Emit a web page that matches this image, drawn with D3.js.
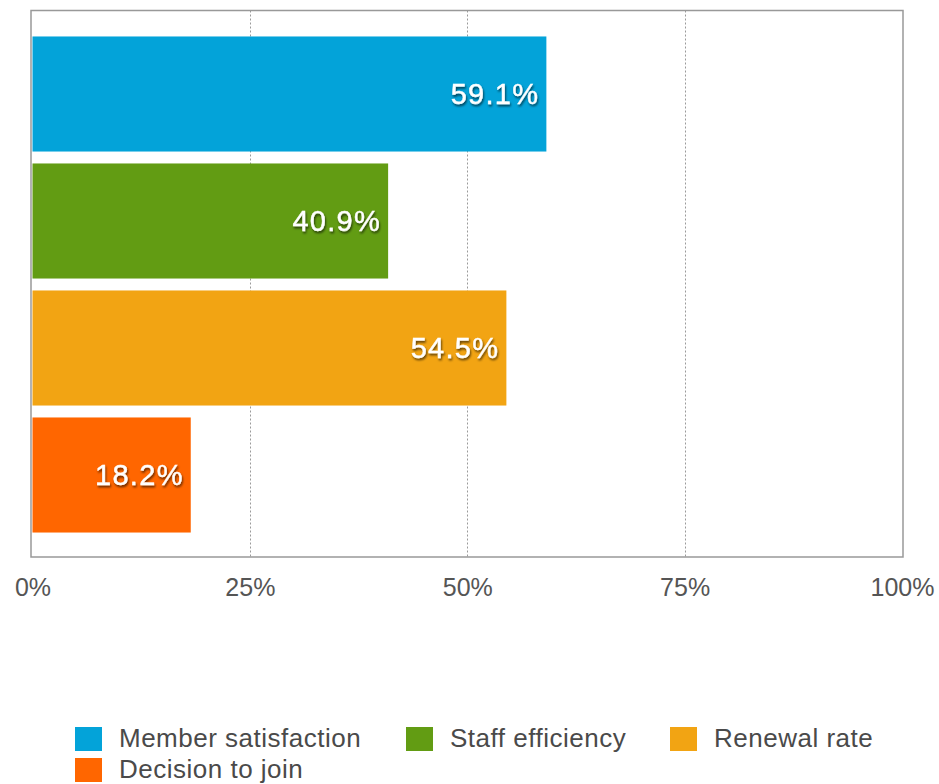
<!DOCTYPE html>
<html>
<head>
<meta charset="utf-8">
<script src="https://cdn.jsdelivr.net/npm/d3@7"></script>
<style>
  html, body { margin: 0; padding: 0; background: #fff; }
  svg { display: block; font-family: "Liberation Sans", Arial, Helvetica, sans-serif; }
</style>
</head>
<body>
<svg id="chart" width="939" height="784"></svg>
<script>
// Survey results (percent)
const categories = ["Member satisfaction", "Staff efficiency", "Renewal rate", "Decision to join"];
const values = [59.1, 40.9, 54.5, 18.2];
const colors = ["#03a3d9", "#629c13", "#f2a413", "#ff6600"];
const tickValues = [0, 25, 50, 75, 100];

const svg = d3.select("#chart");

const frame = { left: 31, right: 903, top: 10.5, bottom: 557 };

const x = d3.scaleLinear().domain([0, 100]).range([32.5, 902]);
const y = d3.scaleBand()
  .domain(categories)
  .range([30.5, 538.5])
  .paddingInner(0.094)
  .paddingOuter(0.047);

// soft dark shadow behind the value labels
const defs = svg.append("defs");
const f = defs.append("filter").attr("id", "shadow")
  .attr("x", "-20%").attr("y", "-30%").attr("width", "140%").attr("height", "160%");
f.append("feDropShadow")
  .attr("dx", 1).attr("dy", 2).attr("stdDeviation", 1.3)
  .attr("flood-color", "#000").attr("flood-opacity", 0.6);

// dotted vertical gridlines
svg.append("g")
  .selectAll("line")
  .data(tickValues.filter(d => d > 0 && d < 100))
  .join("line")
  .attr("x1", d => Math.round(x(d)) + 0.5)
  .attr("x2", d => Math.round(x(d)) + 0.5)
  .attr("y1", frame.top)
  .attr("y2", frame.bottom)
  .attr("stroke", "#9a9a9a")
  .attr("stroke-width", 1)
  .attr("stroke-dasharray", "2,2");

// bars
svg.append("g")
  .selectAll("rect")
  .data(categories)
  .join("rect")
  .attr("x", x(0))
  .attr("y", d => y(d))
  .attr("width", (d, i) => x(values[i]) - x(0))
  .attr("height", y.bandwidth())
  .attr("fill", (d, i) => colors[i]);

// value labels
svg.append("g")
  .selectAll("text")
  .data(categories)
  .join("text")
  .attr("x", (d, i) => x(values[i]) - 7)
  .attr("y", d => y(d) + y.bandwidth() / 2)
  .attr("dy", "0.36em")
  .attr("text-anchor", "end")
  .attr("fill", "#fff")
  .attr("stroke", "#fff")
  .attr("stroke-width", 0.4)
  .attr("font-size", 29)
  .attr("letter-spacing", 1.3)
  .attr("filter", "url(#shadow)")
  .text((d, i) => values[i].toFixed(1) + "%");

// plot frame
svg.append("rect")
  .attr("x", frame.left)
  .attr("y", frame.top)
  .attr("width", frame.right - frame.left)
  .attr("height", frame.bottom - frame.top)
  .attr("fill", "none")
  .attr("stroke", "#999")
  .attr("stroke-width", 1.5);

// x axis tick labels
const xAxis = d3.axisBottom(x)
  .tickValues(tickValues)
  .tickSize(0)
  .tickPadding(0)
  .tickFormat(d => d + "%");
const ax = svg.append("g")
  .attr("transform", `translate(0,${frame.bottom})`)
  .call(xAxis);
ax.select(".domain").remove();
ax.selectAll("text")
  .attr("y", 39)
  .attr("dy", "0")
  .attr("font-size", 25)
  .attr("font-family", "\"Liberation Sans\", Arial, sans-serif")
  .attr("fill", "#555");

// legend
const legendPos = [
  { x: 75, y: 727 }, { x: 406, y: 727 }, { x: 670, y: 727 }, { x: 75, y: 758 }
];
const lg = svg.append("g")
  .selectAll("g")
  .data(categories)
  .join("g")
  .attr("transform", (d, i) => `translate(${legendPos[i].x},${legendPos[i].y})`);
lg.append("rect")
  .attr("width", 27)
  .attr("height", 24)
  .attr("fill", (d, i) => colors[i]);
lg.append("text")
  .attr("x", 44)
  .attr("y", 20)
  .attr("font-size", 26)
  .attr("letter-spacing", 0.5)
  .attr("fill", "#4a4a4a")
  .text(d => d);
</script>
</body>
</html>
